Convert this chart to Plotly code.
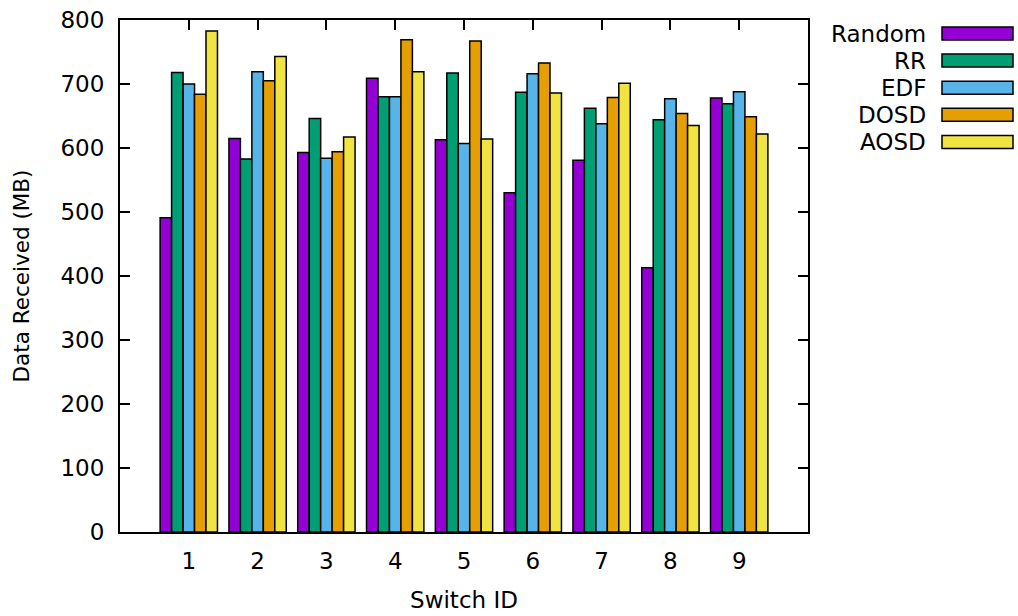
import plotly.graph_objects as go

switch_ids = [1, 2, 3, 4, 5, 6, 7, 8, 9]
series_names = ["Random", "RR", "EDF", "DOSD", "AOSD"]
random_vals = [491, 615, 593, 709, 613, 530, 581, 413, 678]
rr_vals = [718, 583, 646, 680, 717, 687, 662, 644, 669]
edf_vals = [700, 719, 584, 680, 607, 716, 638, 677, 688]
dosd_vals = [684, 705, 594, 769, 767, 733, 679, 654, 649]
aosd_vals = [783, 743, 617, 719, 614, 686, 701, 635, 622]
y_ticks = [0, 100, 200, 300, 400, 500, 600, 700, 800]

series_values = [random_vals, rr_vals, edf_vals, dosd_vals, aosd_vals]
colors = ["#9400D3", "#009E73", "#56B4E9", "#E69F00", "#F0E442"]

W, H = 1018, 616
L, R, T, B = 120, 808, 20, 532
FONT = "DejaVu Sans"

fig = go.Figure()
for name, vals, col in zip(series_names, series_values, colors):
    fig.add_trace(go.Bar(
        x=switch_ids, y=vals, name=name,
        marker=dict(color=col, line=dict(color="black", width=1.5)),
        showlegend=False,
    ))

def px_x(p):
    return (p - L) / (R - L)

def px_y(p):
    return (B - p) / (B - T)

shapes = []
annotations = []
for i, (name, col) in enumerate(zip(series_names, colors)):
    yc = 33.5 + i * 27.1
    shapes.append(dict(type="rect", xref="paper", yref="paper",
                       x0=px_x(942), x1=px_x(1013), y0=px_y(yc + 6.5), y1=px_y(yc - 6.5),
                       fillcolor=col, line=dict(color="black", width=1.5)))
    annotations.append(dict(text=name, xref="paper", yref="paper",
                            x=px_x(928), y=px_y(yc), xanchor="right", yanchor="middle",
                            showarrow=False, font=dict(family=FONT, size=23, color="black")))

fig.update_layout(
    width=W, height=H,
    margin=dict(l=L, r=W - R, t=T, b=H - B, pad=0, autoexpand=False),
    paper_bgcolor="white", plot_bgcolor="white",
    barmode="group", bargap=1 / 6, bargroupgap=0,
    font=dict(family=FONT, size=23, color="black"),
    shapes=shapes, annotations=annotations,
    showlegend=False,
)
fig.update_xaxes(
    range=[0, 10], tickmode="array", tickvals=switch_ids, ticktext=[str(s) for s in switch_ids],
    ticks="inside", ticklen=10, tickwidth=1.5, tickcolor="black",
    showline=True, linecolor="black", linewidth=2, mirror="ticks",
    showgrid=False, zeroline=False, layer="below traces",
    ticklabelstandoff=7,
    title=dict(text="Switch ID", standoff=19, font=dict(size=23)),
    tickfont=dict(size=23), automargin=False,
)
fig.update_yaxes(
    range=[0, 800], tickmode="array", tickvals=y_ticks,
    ticks="inside", ticklen=10, tickwidth=1.5, tickcolor="black",
    showline=True, linecolor="black", linewidth=2, mirror="ticks",
    showgrid=False, zeroline=False,
    ticklabelstandoff=9,
    title=dict(text="Data Received (MB)", standoff=25, font=dict(size=21.5)),
    tickfont=dict(size=23), automargin=False,
)

fig.write_html("out.html", config={"displayModeBar": False},
               post_script="document.body.style.margin='0';")
